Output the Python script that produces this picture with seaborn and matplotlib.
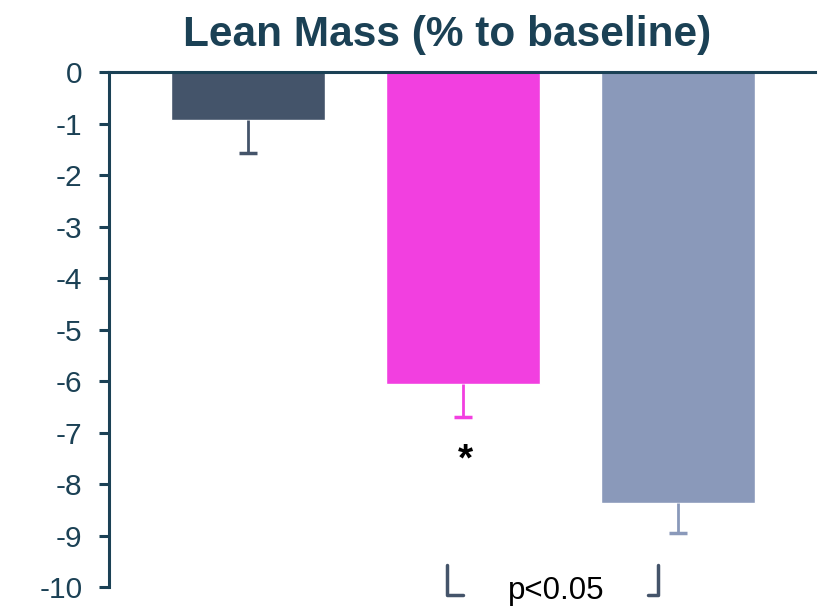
import matplotlib
matplotlib.use("Agg")
import matplotlib.pyplot as plt
import numpy as np
import pandas as pd
import seaborn as sns

# data
groups = ["Group 1", "Group 2", "Group 3"]
change = [-0.93, -6.06, -8.37]
err_low = [0.64, 0.64, 0.58]
colors = ["#44546a", "#f23fe0", "#8a99ba"]

sns.set_style("white")
plt.rcParams["font.family"] = ["Liberation Sans", "DejaVu Sans"]

dark = "#1b4155"

df = pd.DataFrame({"group": groups, "change": change})

fig = plt.figure(figsize=(8.35, 6.08), dpi=100)
ax = fig.add_axes([0.1305, 0.0345, 0.8455, 0.847])

sns.barplot(data=df, x="group", y="change", hue="group", palette=colors,
            width=0.72, errorbar=None, legend=False, ax=ax, saturation=1)

# one-sided (downward) error bars, cap only at the lower end
for i, (v, e, c) in enumerate(zip(change, err_low, colors)):
    ax.vlines(i, v - e, v, color=c, lw=2)
    ax.hlines(v - e, i - 0.04, i + 0.04, color=c, lw=2.5)

ax.set_ylim(-10, 0)
ax.set_xlim(-0.647, 2.637)
ax.set_yticks(np.arange(-10, 1, 1))
ax.set_yticklabels([str(t) for t in range(-10, 1)])
ax.set_xticks([])
ax.set_xlabel("")
ax.set_ylabel("")

for s in ["bottom", "right"]:
    ax.spines[s].set_visible(False)
for s in ["left", "top"]:
    ax.spines[s].set_color(dark)
    ax.spines[s].set_linewidth(2.2)

ax.tick_params(axis="y", direction="out", length=7, width=2.2, color=dark,
               labelcolor=dark, labelsize=21.5, pad=12, left=True)

fig.text(0.535, 0.943, "Lean Mass (% to baseline)", ha="center", va="center",
         fontsize=30.5, fontweight="bold", color=dark)

# significance markers
ax.text(1.01, -7.55, "*", ha="center", va="center", fontsize=28,
        fontweight="bold", color="black")
ax.text(1.433, -10.08, "p<0.05", ha="center", va="center", fontsize=22.5,
        color="black", clip_on=False)
bk = dict(color="#44546a", lw=2.5, clip_on=False, solid_capstyle="round")
ax.plot([0.926, 0.926, 1.0], [-9.57, -10.15, -10.15], **bk)
ax.plot([1.907, 1.907, 1.86], [-9.57, -10.15, -10.15], **bk)

fig.savefig("out.png", dpi=100)
